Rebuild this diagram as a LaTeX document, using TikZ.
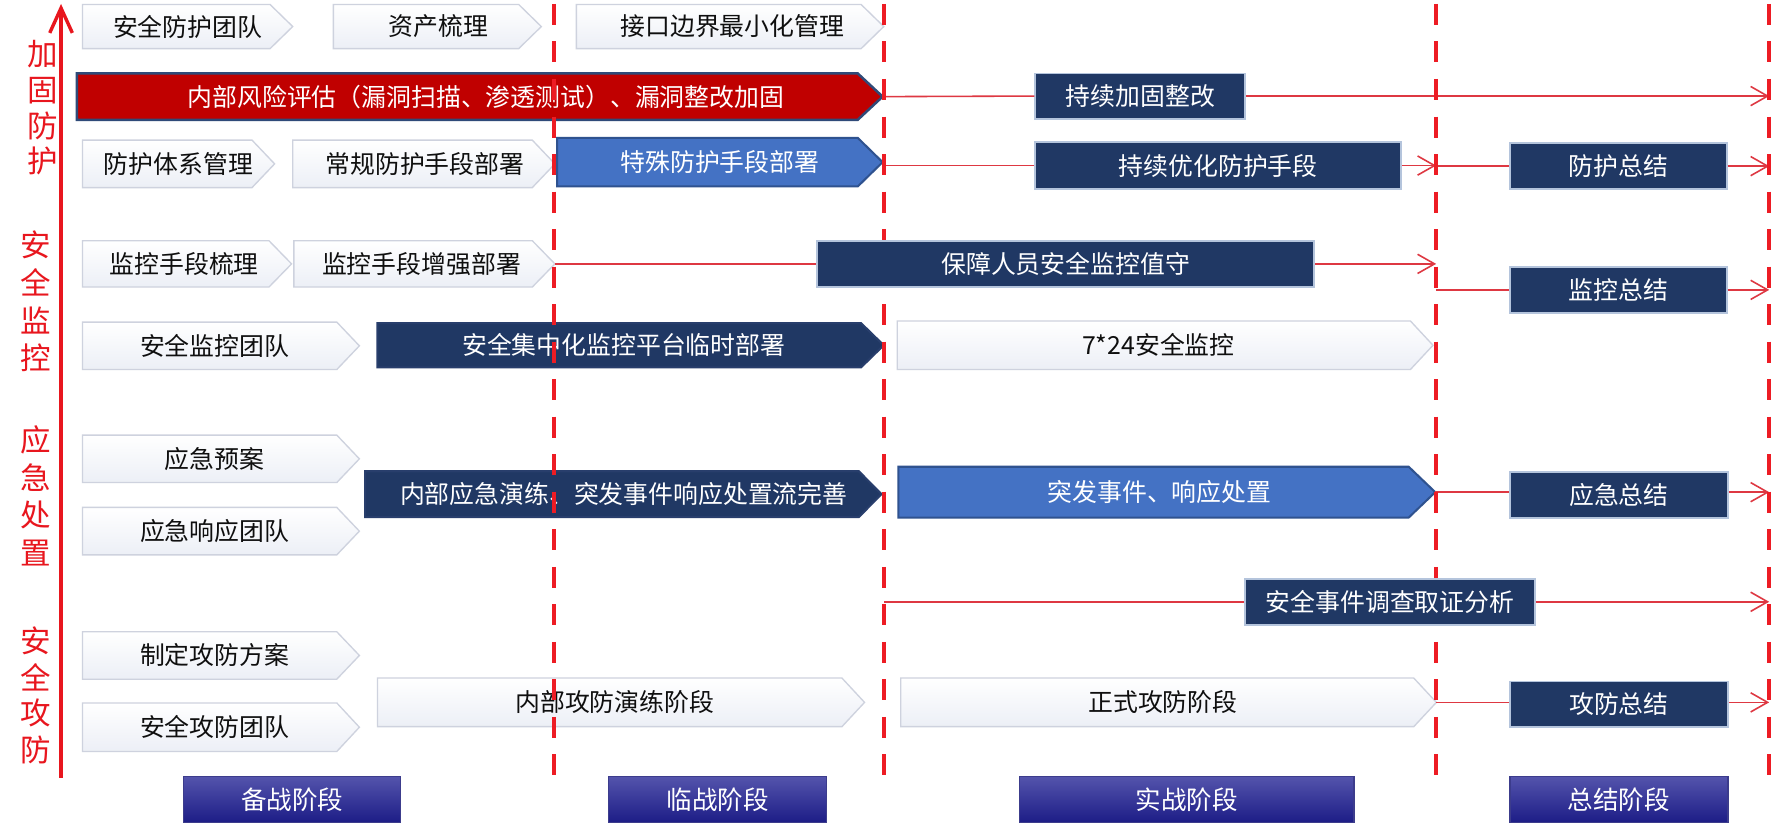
\documentclass[tikz,border=0pt]{standalone}
\usepackage{fontspec}
\setmainfont{Noto Sans CJK SC}
\usetikzlibrary{arrows.meta}
\definecolor{dashred}{RGB}{237,28,36}
\definecolor{sidered}{RGB}{232,22,30}
\definecolor{connred}{RGB}{222,56,66}
\definecolor{navy}{RGB}{32,56,100}
\definecolor{navyb}{RGB}{180,196,220}
\definecolor{navyarrb}{RGB}{40,62,108}
\definecolor{arrred}{RGB}{192,0,0}
\definecolor{arrredb}{RGB}{47,74,120}
\definecolor{arrblue}{RGB}{68,114,196}
\definecolor{arrblueb}{RGB}{47,82,143}
\definecolor{chevbot}{RGB}{236,239,246}
\definecolor{chevborder}{RGB}{206,210,222}
\definecolor{chevtext}{RGB}{15,15,15}
\definecolor{phtop}{RGB}{84,84,172}
\definecolor{phbot}{RGB}{28,28,134}
\definecolor{phborder}{RGB}{60,60,140}
\newcommand\bxfont{\fontsize{11pt}{13pt}\selectfont}
\newcommand\phfont{\fontsize{11.3pt}{13pt}\selectfont}
\newcommand\sdfont{\fontsize{13.5pt}{15pt}\selectfont}
\newcommand\mkpent[9]{%
  \path[#2] (#3,#5) -- ({#4-#7},#5) -- (#4,{(#5+#6)/2}) -- ({#4-#7},#6) -- (#3,#6) -- cycle;
  \node[#2 txt] (#1) at (#8,{(#5+#6)/2}) {#9};
  \coordinate (#1-tip) at (#4,{(#5+#6)/2});
}
\begin{document}
\begin{tikzpicture}[x=0.5pt,y=-0.5pt,
  chev/.style={draw=chevborder, line width=0.6pt, top color=white, bottom color=chevbot},
  chev txt/.style={font=\bxfont, text=chevtext, inner sep=0pt},
  redarr/.style={fill=arrred, draw=arrredb, line width=1.1pt},
  redarr txt/.style={font=\bxfont, text=white, inner sep=0pt},
  bluearr/.style={fill=arrblue, draw=arrblueb, line width=0.9pt},
  bluearr txt/.style={font=\bxfont, text=white, inner sep=0pt},
  navyarr/.style={fill=navy, draw=navyarrb, line width=0.9pt},
  navyarr txt/.style={font=\bxfont, text=white, inner sep=0pt},
  navybox/.style={rectangle, fill=navy, draw=navyb, line width=0.8pt, text=white, font=\bxfont, inner sep=0pt, minimum height=20.5pt},
  phase/.style={rectangle, top color=phtop, bottom color=phbot, draw=phborder, line width=0.6pt, text=white, font=\phfont, inner sep=0pt, minimum height=20.5pt},
  conn/.style={draw=connred, line width=0.7pt},
  arr/.style={conn, -{Straight Barb[length=7.5pt,width=8.5pt]}},
  dashline/.style={draw=dashred, line width=1.9pt, dash pattern=on 9.3pt off 7.3pt},
  axisline/.style={draw=sidered, line width=1.5pt, -{Straight Barb[length=11pt,width=10pt]}},
  sidelbl/.style={text=sidered, font=\sdfont, inner sep=0pt}]
\useasboundingbox (0,0) rectangle (1568,733.6);
\fill[white] (0,0) rectangle (1568,733.6);

% row 1
\mkpent{c11}{chev}{73}{259}{4}{43}{20}{166}{安全防护团队}
\mkpent{c12}{chev}{295}{479}{4}{43}{20}{388}{资产梳理}
\mkpent{c13}{chev}{510}{782}{4}{43}{20}{648}{接口边界最小化管理}
% row 2
\mkpent{red}{redarr}{68}{781}{65}{106}{22}{430}{内部风险评估（漏洞扫描、渗透测试）、漏洞整改加固}
% row 3
\mkpent{c31}{chev}{73}{243}{124}{166}{20}{158}{防护体系管理}
\mkpent{c32}{chev}{259}{491}{124}{166}{20}{376}{常规防护手段部署}
\mkpent{blue1}{bluearr}{493}{781}{122}{165}{22}{637}{特殊防护手段部署}
% row 4
\mkpent{c41}{chev}{73}{258}{213}{254}{20}{163}{监控手段梳理}
\mkpent{c42}{chev}{260}{491}{213}{254}{20}{373}{监控手段增强部署}
% row 5
\mkpent{c51}{chev}{73}{318}{285}{327}{20}{190}{安全监控团队}
\mkpent{nav1}{navyarr}{334}{782}{286}{325}{20}{552}{安全集中化监控平台临时部署}
\mkpent{c52}{chev}{794}{1268}{284}{327}{20}{1025}{7*24安全监控}
% row 6-7
\mkpent{c61}{chev}{73}{318}{385}{427}{20}{190}{应急预案}
\mkpent{c62}{chev}{73}{318}{449}{491}{20}{190}{应急响应团队}
\mkpent{nav2}{navyarr}{323}{780}{417}{457.5}{20}{552}{内部应急演练、突发事件响应处置流完善}
\mkpent{blue2}{bluearr}{795}{1270}{413}{458}{23.5}{1026}{突发事件、响应处置}
% row 9
\mkpent{c91}{chev}{73}{318}{559}{601}{20}{190}{制定攻防方案}
\mkpent{c92}{chev}{73}{318}{622}{665}{20}{190}{安全攻防团队}
\mkpent{c93}{chev}{334}{765}{600}{643}{20}{544}{内部攻防演练阶段}
\mkpent{c94}{chev}{797}{1271}{600}{643}{20}{1029}{正式攻防阶段}

% dashed line coordinates
\coordinate (dl1t) at (490.3,3.5); \coordinate (dl1b) at (490.3,687);
\coordinate (dl2t) at (782.3,3.5); \coordinate (dl2b) at (782.3,687);
\coordinate (dl3t) at (1270.8,3.5); \coordinate (dl3b) at (1270.8,687);
\coordinate (dl4t) at (1565.5,3.5); \coordinate (dl4b) at (1565.5,687);

% navy boxes
\node[navybox, minimum width=93pt, minimum height=20pt] (jgzg) at (1009,85) {持续加固整改};
\node[navybox, minimum width=162pt, minimum height=21pt] (yhfh) at (1078,146.5) {持续优化防护手段};
\node[navybox, minimum width=96pt] (fhzj) at (1432,147) {防护总结};
\node[navybox, minimum width=96pt] (jkzj) at (1432,256.5) {监控总结};
\node[navybox, minimum width=96.5pt] (yjzj) at (1432.5,438) {应急总结};
\node[navybox, minimum width=96.5pt, minimum height=20pt] (gfzj) at (1432.5,623) {攻防总结};

% connectors
\draw[conn] (red-tip) -- (jgzg.west);
\draw[arr] (jgzg.east) -- (jgzg.east -| dl4t);
\draw[conn] (blue1-tip |- yhfh.west) -- (yhfh.west);
\draw[arr] (yhfh.east) -- (yhfh.east -| dl3t);
\draw[conn] (fhzj.west -| dl3t) -- (fhzj.west);
\draw[arr] (fhzj.east) -- (fhzj.east -| dl4t);
\draw[conn] (jkzj.west -| dl3t) -- (jkzj.west);
\draw[arr] (jkzj.east) -- (jkzj.east -| dl4t);
\draw[conn] (blue2-tip) -- (blue2-tip -| yjzj.west);
\draw[arr] (blue2-tip -| yjzj.east) -- (blue2-tip -| dl4t);
\draw[conn] (c94-tip) -- (c94-tip -| gfzj.west);
\draw[arr] (c94-tip -| gfzj.east) -- (c94-tip -| dl4t);

% dashed phase separators
\draw[dashline] (dl1t) -- (dl1b);
\draw[dashline] (dl2t) -- (dl2b);
\draw[dashline] (dl3t) -- (dl3b);
\draw[dashline] (dl4t) -- (dl4b);

% boxes lying over the dashed lines
\node[navybox, minimum width=220pt] (bzry) at (943,233.5) {保障人员安全监控值守};
\node[navybox, minimum width=128pt] (aqsj) at (1230,532.5) {安全事件调查取证分析};
\draw[conn] (c42-tip) -- (bzry.west);
\draw[arr] (bzry.east) -- (bzry.east -| dl3t);
\draw[conn] (aqsj.west -| dl2t) -- (aqsj.west);
\draw[arr] (aqsj.east) -- (aqsj.east -| dl4t);

% phase boxes
\node[phase, minimum width=96pt] (bz) at (258.5,707.5) {备战阶段};
\node[phase, minimum width=96.5pt] (lz) at (635,707.5) {临战阶段};
\node[phase, minimum width=148pt] (sz) at (1050,707.5) {实战阶段};
\node[phase, minimum width=96.5pt] (zj) at (1432.5,707.5) {总结阶段};

% vertical axis
\coordinate (axb) at (54,688);
\coordinate (axt) at (54,3.5);
\draw[axisline] (axb) -- (axt);

% side labels
\foreach \ch/\yy [count=\i] in {加/48,固/80,防/111.5,护/142}
  \node[sidelbl] (sa\i) at (37.5,\yy) {\ch};
\foreach \ch/\yy [count=\i] in {安/217,全/250,监/284,控/317}
  \node[sidelbl] (sb\i) at (31.5,\yy) {\ch};
\foreach \ch/\yy [count=\i] in {应/389,急/423,处/456,置/489}
  \node[sidelbl] (sc\i) at (31.5,\yy) {\ch};
\foreach \ch/\yy [count=\i] in {安/567,全/599,攻/631,防/664}
  \node[sidelbl] (sd\i) at (31.5,\yy) {\ch};
\end{tikzpicture}
\end{document}
